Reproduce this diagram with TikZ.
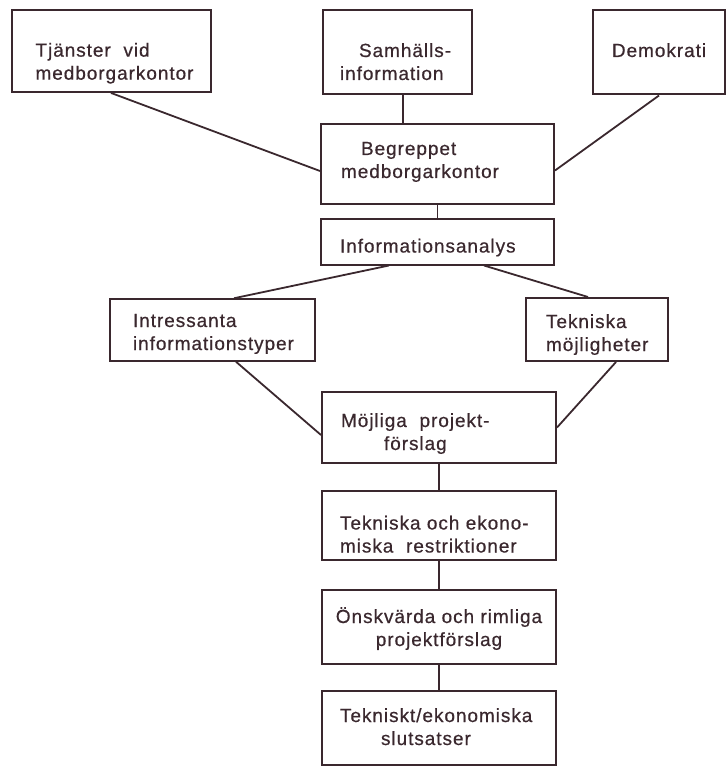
\documentclass[tikz,border=0pt]{standalone}
\usepackage{fontspec}
\setmainfont[LetterSpace=5.0,FakeBold=0.6]{Liberation Sans}
\definecolor{encre}{RGB}{58,40,46}

\begin{document}
\begin{tikzpicture}[x=1pt, y=-1pt,
  cadre/.style 2 args={draw=encre, line width=2pt, text=encre, inner xsep=0pt,
    inner ysep=0pt, text width=#1pt, minimum height=#2pt, align=left,
    text depth=30pt, font=\fontsize{19}{23}\selectfont},
  lien/.style={draw=encre, line width=1.8pt}]
  \useasboundingbox (0,0) rectangle (726,767);

  % Cadres du haut
  \node[cadre={199}{81.5}, text height=40.9pt] (tjanster) at (111,51.2)
    {\hspace*{24pt}Tjänster~~vid\\\hspace*{24pt}medborgarkontor};
  \node[cadre={149}{84}, text height=39pt] (samhall) at (397.5,52.5)
    {\hspace*{36pt}Samhälls-\\\hspace*{17pt}information};
  \node[cadre={131.5}{84}, text height=39pt, align=center] (demokrati) at (659,52.5)
    {Demokrati};

  % Analyse
  \node[cadre={233}{80}, text height=11pt] (begrepp) at (437.5,164.5)
    {\hspace*{40pt}Begreppet\\\hspace*{20pt}medborgarkontor};
  \node[cadre={233}{46}, text height=22pt, text depth=0pt] (analys) at (437.5,241.5)
    {\hspace*{19pt}Informationsanalys};
  \node[cadre={205}{61.5}, text height=24pt] (intressanta) at (212.5,330)
    {\hspace*{23pt}Intressanta\\\hspace*{23pt}informationstyper};
  \node[cadre={142}{63}, text height=27pt] (teknik) at (597,329.5)
    {\hspace*{20pt}Tekniska\\\hspace*{20pt}möjligheter};

  % Colonne centrale
  \node[cadre={234}{71}, text height=29pt] (mojliga) at (439,427.5)
    {\hspace*{19pt}Möjliga~~projekt-\\\hspace*{62pt}förslag};
  \node[cadre={234}{69}, text height=38pt] (restrikt) at (439,525.5)
    {\hspace*{18pt}Tekniska och ekono-\\\hspace*{18pt}miska~~restriktioner};
  \node[cadre={234}{73.5}, text height=22pt, align=center] (onskvard) at (439,627)
    {Önskvärda och rimliga\\projektförslag};
  \node[cadre={234}{74}, text height=18pt] (slutsats) at (439,728)
    {\hspace*{18pt}Tekniskt/ekonomiska\\\hspace*{59pt}slutsatser};

  % Liaisons
  \draw[lien] (tjanster.south) -- ([yshift=-6.5pt]begrepp.west);
  \draw[lien] ([xshift=5.5pt]samhall.south) -- ([xshift=5.5pt]samhall.south |- begrepp.north);
  \draw[lien] (demokrati.south) -- ([yshift=-6pt]begrepp.east);
  \draw[lien] (begrepp.south) -- (analys.north);
  \draw[lien] ([xshift=-48.5pt]analys.south) -- ([xshift=21.5pt]intressanta.north);
  \draw[lien] ([xshift=46.5pt]analys.south) -- ([xshift=-9pt]teknik.north);
  \draw[lien] ([xshift=23.5pt]intressanta.south) -- ([yshift=-7.5pt]mojliga.west);
  \draw[lien] ([xshift=19pt]teknik.south) -- (mojliga.east);
  \draw[lien] (mojliga.south) -- (restrikt.north);
  \draw[lien] (restrikt.south) -- (onskvard.north);
  \draw[lien] (onskvard.south) -- (slutsats.north);

\end{tikzpicture}
\end{document}
